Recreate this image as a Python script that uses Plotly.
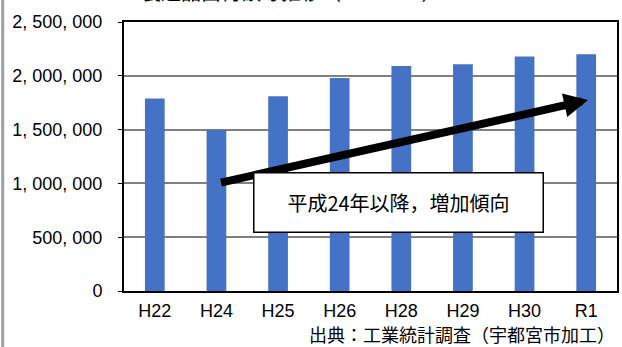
import plotly.graph_objects as go

# 製造品出荷額等（万円）の推移
categories = ["H22", "H24", "H25", "H26", "H28", "H29", "H30", "R1"]
values = [1790000, 1496000, 1810000, 1980000, 2090000, 2107000, 2180000, 2200000]
tick_vals = [0, 500000, 1000000, 1500000, 2000000, 2500000]
tick_text = ["0", "500, 000", "1, 000, 000", "1, 500, 000", "2, 000, 000", "2, 500, 000"]

title_text = "製造品出荷額等推移（H22～R1）"
source_text = "出典：工業統計調査（宇都宮市加工）"
note_text = "平成24年以降，増加傾向"

# trend arrow: tail / head (category index, value)
arrow_tail = (1.05, 1004000)
arrow_head = (7.03, 1775000)
note_pos = (3.96, 818000)

FONT = "Liberation Sans, Noto Sans CJK JP, sans-serif"

fig = go.Figure()
fig.add_trace(go.Bar(
    x=list(range(len(categories))),
    y=values,
    marker=dict(color="#4472C4", line=dict(width=0)),
    width=0.32,
))

fig.update_layout(
    width=622, height=347,
    margin=dict(l=124, r=3, t=22, b=56),
    paper_bgcolor="white", plot_bgcolor="white",
    showlegend=False,
    font=dict(family=FONT, color="black"),
    xaxis=dict(
        range=[-0.5, len(categories) - 0.5],
        tickmode="array",
        tickvals=list(range(len(categories))),
        ticktext=categories,
        tickfont=dict(size=18, color="black"),
        showgrid=False, zeroline=False,
        showline=True, linecolor="black", linewidth=2, mirror=True,
        ticks="", ticklabelstandoff=2,
    ),
    yaxis=dict(
        range=[0, 2500000],
        tickmode="array",
        tickvals=tick_vals,
        ticktext=tick_text,
        tickfont=dict(size=18, color="black"),
        showgrid=True, gridcolor="#808080", gridwidth=2,
        zeroline=False,
        showline=True, linecolor="black", linewidth=2, mirror=True,
        ticks="outside", ticklen=4, tickcolor="black", tickwidth=1,
        ticklabelstandoff=12,
    ),
)

# trend arrow
fig.add_annotation(
    x=arrow_head[0], y=arrow_head[1], xref="x", yref="y",
    ax=arrow_tail[0], ay=arrow_tail[1], axref="x", ayref="y",
    text="", showarrow=True,
    arrowhead=2, arrowsize=0.6, arrowwidth=8, arrowcolor="black",
)

# note box
fig.add_annotation(
    x=note_pos[0], y=note_pos[1], xref="x", yref="y",
    text=note_text, showarrow=False,
    font=dict(size=20, color="black", family="Noto Sans CJK JP, sans-serif"),
    bgcolor="white", bordercolor="black", borderwidth=1.5,
    width=286, height=56, align="center", valign="middle",
)

# title (top partially outside the page)
fig.add_annotation(
    x=0.34, y=1.052, xref="paper", yref="paper",
    xanchor="center", yanchor="bottom",
    text=title_text, showarrow=False,
    font=dict(size=20, color="black", family="Noto Sans CJK JP, sans-serif"),
)

# source
fig.add_annotation(
    x=1.0, y=-0.104, xref="paper", yref="paper",
    xanchor="right", yanchor="top",
    text=source_text, showarrow=False,
    font=dict(size=18, color="black", family="Noto Sans CJK JP, sans-serif"),
)

# left edge strip
fig.add_shape(type="line", xref="paper", yref="paper",
              x0=-0.246, x1=-0.246, y0=-0.25, y1=1.1,
              line=dict(color="#A0A0A0", width=3))

fig.write_html("out.html")
